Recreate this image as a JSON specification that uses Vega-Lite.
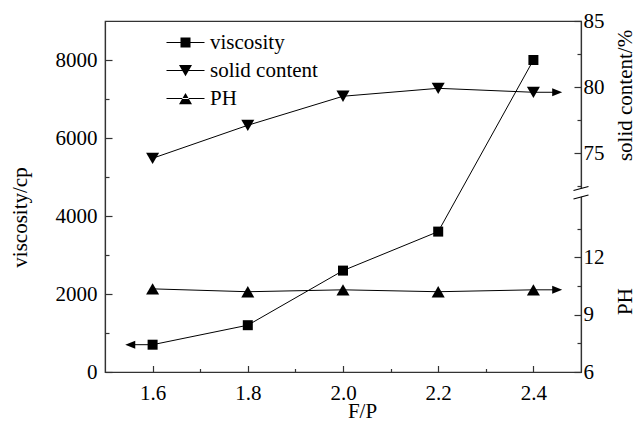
{
  "$schema": "https://vega.github.io/schema/vega-lite/v6.json",
  "width": 476,
  "height": 351,
  "autosize": {"type": "none"},
  "padding": {"left": 105, "top": 21, "right": 55, "bottom": 51},
  "background": "white",
  "config": {
    "font": "Liberation Serif",
    "view": {"stroke": "#333333", "strokeWidth": 1.2},
    "axis": {
      "labelFont": "Liberation Serif",
      "labelFontSize": 21,
      "labelColor": "black",
      "labelOverlap": false,
      "labelFlush": false,
      "titleFont": "Liberation Serif",
      "titleFontSize": 21,
      "titleFontWeight": "normal",
      "titleColor": "black",
      "domainColor": "#333333",
      "domainWidth": 1.2,
      "tickColor": "#333333",
      "tickWidth": 1.2,
      "grid": false
    }
  },
  "datasets": {
    "measurements": [
      {"fp": 1.6, "series": "viscosity", "value": 700},
      {"fp": 1.8, "series": "viscosity", "value": 1200},
      {"fp": 2.0, "series": "viscosity", "value": 2600},
      {"fp": 2.2, "series": "viscosity", "value": 3600},
      {"fp": 2.4, "series": "viscosity", "value": 8000},
      {"fp": 1.6, "series": "solid content", "value": 74.6},
      {"fp": 1.8, "series": "solid content", "value": 77.1},
      {"fp": 2.0, "series": "solid content", "value": 79.3},
      {"fp": 2.2, "series": "solid content", "value": 79.9},
      {"fp": 2.4, "series": "solid content", "value": 79.6},
      {"fp": 1.6, "series": "PH", "value": 10.35},
      {"fp": 1.8, "series": "PH", "value": 10.2},
      {"fp": 2.0, "series": "PH", "value": 10.3},
      {"fp": 2.2, "series": "PH", "value": 10.2},
      {"fp": 2.4, "series": "PH", "value": 10.3}
    ],
    "arrows": [
      {"series": "viscosity", "start": 1.6, "end": 1.55, "head": 1.553, "value": 700},
      {"series": "solid content", "start": 2.4, "end": 2.45, "head": 2.45, "value": 79.6},
      {"series": "PH", "start": 2.4, "end": 2.45, "head": 2.45, "value": 10.3}
    ],
    "axisBreak": [{"fp": 2.5, "value": 43.75}]
  },
  "layer": [
    {
      "layer": [
        {
          "data": {"name": "measurements"},
          "transform": [{"filter": "datum.series == 'viscosity'"}],
          "mark": {"type": "line", "color": "black", "strokeWidth": 1},
          "encoding": {
            "x": {
              "field": "fp", "type": "quantitative",
              "scale": {"domain": [1.5, 2.5], "nice": false, "zero": false},
              "axis": {
                "title": "F/P",
                "values": [1.6, 1.7, 1.8, 1.9, 2.0, 2.1, 2.2, 2.3, 2.4],
                "format": ".1f",
                "labelOverlap": false,
                "labelFlush": false,
                "labelExpr": "round(datum.value * 10) % 2 == 0 ? datum.label : ''",
                "tickSize": {"condition": {"test": "round(datum.value * 10) % 2 != 0", "value": -3.5}, "value": -6.5},
                "labelPadding": 17,
                "titleX": 257,
                "titleY": 45,
                "titleBaseline": "alphabetic"
              }
            },
            "y": {
              "field": "value", "type": "quantitative",
              "scale": {"domain": [0, 9000], "nice": false, "zero": false},
              "axis": {
                "orient": "left",
                "title": "viscosity/cp",
                "values": [0, 1000, 2000, 3000, 4000, 5000, 6000, 7000, 8000],
                "format": "d",
                "labelOverlap": false,
                "labelFlush": false,
                "labelExpr": "datum.value % 2000 == 0 ? datum.label : ''",
                "tickSize": {"condition": {"test": "datum.value % 2000 != 0", "value": -4}, "value": -7},
                "labelPadding": 15,
                "titleAngle": 270,
                "titleX": -85,
                "titleY": 196,
                "titleAlign": "center",
                "titleBaseline": "middle"
              }
            }
          }
        },
        {
          "data": {"name": "measurements"},
          "transform": [{"filter": "datum.series == 'viscosity'"}],
          "mark": {"type": "point", "shape": "square", "filled": true, "color": "black", "opacity": 1, "size": 100},
          "encoding": {
            "x": {"field": "fp", "type": "quantitative"},
            "y": {"field": "value", "type": "quantitative"}
          }
        },
        {
          "data": {"name": "arrows"},
          "transform": [{"filter": "datum.series == 'viscosity'"}],
          "mark": {"type": "rule", "color": "black", "strokeWidth": 1},
          "encoding": {
            "x": {"field": "start", "type": "quantitative"},
            "x2": {"field": "end"},
            "y": {"field": "value", "type": "quantitative"}
          }
        },
        {
          "data": {"name": "arrows"},
          "transform": [{"filter": "datum.series == 'viscosity'"}],
          "mark": {"type": "point", "shape": "M-1,0L1,-0.8L1,0.8Z", "filled": true, "color": "black", "opacity": 1, "size": 100},
          "encoding": {
            "x": {"field": "head", "type": "quantitative"},
            "y": {"field": "value", "type": "quantitative"}
          }
        },
        {
          "data": {"name": "measurements"},
          "mark": {"type": "point", "filled": true, "color": "black", "opacity": 0},
          "encoding": {
            "x": {"field": "fp", "type": "quantitative"},
            "y": {"field": "value", "type": "quantitative"},
            "shape": {
              "field": "series", "type": "nominal",
              "scale": {
                "domain": ["viscosity", "solid content", "PH"],
                "range": [
                  "M-1.52,-0.04H1.52V0.04H-1.52ZM-0.4,-0.4H0.4V0.4H-0.4Z",
                  "M-1.52,-0.04H1.52V0.04H-1.52ZM-0.52,-0.45L0.52,-0.45L0,0.45Z",
                  "M-1.52,-0.04H1.52V0.04H-1.52ZM-0.52,0.45L0.52,0.45L0,-0.45Z"
                ]
              },
              "legend": {
                "title": null,
                "orient": "none",
                "legendX": 68,
                "legendY": 9,
                "labelFont": "Liberation Serif",
                "labelFontSize": 21,
                "labelColor": "black",
                "symbolSize": 625,
                "symbolFillColor": "black",
                "symbolStrokeWidth": 0,
                "symbolOpacity": 1,
                "labelOffset": 12,
                "rowPadding": 5,
                "encode": {
                  "symbols": {
                    "update": {
                      "fill": {"value": "black"},
                      "opacity": {"value": 1}
                    }
                  }
                }
              }
            }
          }
        }
      ]
    },
    {
      "layer": [
        {
          "data": {"name": "measurements"},
          "transform": [{"filter": "datum.series == 'solid content'"}],
          "mark": {"type": "line", "color": "black", "strokeWidth": 1},
          "encoding": {
            "x": {"field": "fp", "type": "quantitative", "scale": {"domain": [1.5, 2.5], "nice": false, "zero": false}},
            "y": {
              "field": "value", "type": "quantitative",
              "scale": {"domain": [6, 15, 72.5, 85], "range": [351, 179, 165, 0], "nice": false, "zero": false},
              "axis": {
                "orient": "right",
                "title": "solid content/%",
                "values": [6, 9, 12, 75, 80, 85],
                "format": "d",
                "labelOverlap": false,
                "labelFlush": false,
                "tickSize": -7,
                "labelPadding": 9,
                "titleAngle": 270,
                "titleX": 44,
                "titleY": 74,
                "titleAlign": "center",
                "titleBaseline": "middle"
              }
            }
          }
        },
        {
          "data": {"name": "measurements"},
          "transform": [{"filter": "datum.series == 'solid content'"}],
          "mark": {"type": "point", "shape": "triangle-down", "filled": true, "color": "black", "opacity": 1, "size": 170},
          "encoding": {
            "x": {"field": "fp", "type": "quantitative"},
            "y": {"field": "value", "type": "quantitative"}
          }
        },
        {
          "data": {"name": "arrows"},
          "transform": [{"filter": "datum.series == 'solid content'"}],
          "mark": {"type": "rule", "color": "black", "strokeWidth": 1},
          "encoding": {
            "x": {"field": "start", "type": "quantitative"},
            "x2": {"field": "end"},
            "y": {"field": "value", "type": "quantitative"}
          }
        },
        {
          "data": {"name": "arrows"},
          "transform": [{"filter": "datum.series == 'solid content'"}],
          "mark": {"type": "point", "shape": "M1,0L-1,-0.8L-1,0.8Z", "filled": true, "color": "black", "opacity": 1, "size": 100},
          "encoding": {
            "x": {"field": "head", "type": "quantitative"},
            "y": {"field": "value", "type": "quantitative"}
          }
        },
        {
          "data": {"name": "axisBreak"},
          "mark": {"type": "point", "shape": "M-0.3,-0.37L0.3,-0.53L0.3,0.32L-0.3,0.48Z", "filled": true, "color": "white", "opacity": 1, "size": 400},
          "encoding": {
            "x": {"field": "fp", "type": "quantitative"},
            "y": {"field": "value", "type": "quantitative"}
          }
        },
        {
          "data": {"name": "axisBreak"},
          "mark": {"type": "point", "shape": "M-0.75,-0.25L0.75,-0.65M-0.75,0.6L0.75,0.2", "filled": false, "color": "black", "opacity": 1, "strokeWidth": 1.2, "size": 400},
          "encoding": {
            "x": {"field": "fp", "type": "quantitative"},
            "y": {"field": "value", "type": "quantitative"}
          }
        }
      ]
    },
    {
      "layer": [
        {
          "data": {"name": "measurements"},
          "transform": [{"filter": "datum.series == 'PH'"}],
          "mark": {"type": "line", "color": "black", "strokeWidth": 1},
          "encoding": {
            "x": {"field": "fp", "type": "quantitative", "scale": {"domain": [1.5, 2.5], "nice": false, "zero": false}},
            "y": {
              "field": "value", "type": "quantitative",
              "scale": {"domain": [6, 15, 72.5, 85], "range": [351, 179, 165, 0], "nice": false, "zero": false},
              "axis": {
                "orient": "right",
                "title": "PH",
                "values": [7.5, 10.5, 13.5, 72.5, 77.5, 82.5],
                "labels": false,
                "tickSize": -4,
                "domain": false,
                "titleAngle": 270,
                "titleX": 44,
                "titleY": 280,
                "titleAlign": "center",
                "titleBaseline": "middle"
              }
            }
          }
        },
        {
          "data": {"name": "measurements"},
          "transform": [{"filter": "datum.series == 'PH'"}],
          "mark": {"type": "point", "shape": "triangle-up", "filled": true, "color": "black", "opacity": 1, "size": 170},
          "encoding": {
            "x": {"field": "fp", "type": "quantitative"},
            "y": {"field": "value", "type": "quantitative"}
          }
        },
        {
          "data": {"name": "arrows"},
          "transform": [{"filter": "datum.series == 'PH'"}],
          "mark": {"type": "rule", "color": "black", "strokeWidth": 1},
          "encoding": {
            "x": {"field": "start", "type": "quantitative"},
            "x2": {"field": "end"},
            "y": {"field": "value", "type": "quantitative"}
          }
        },
        {
          "data": {"name": "arrows"},
          "transform": [{"filter": "datum.series == 'PH'"}],
          "mark": {"type": "point", "shape": "M1,0L-1,-0.8L-1,0.8Z", "filled": true, "color": "black", "opacity": 1, "size": 100},
          "encoding": {
            "x": {"field": "head", "type": "quantitative"},
            "y": {"field": "value", "type": "quantitative"}
          }
        }
      ]
    }
  ],
  "resolve": {"scale": {"y": "independent"}}
}
